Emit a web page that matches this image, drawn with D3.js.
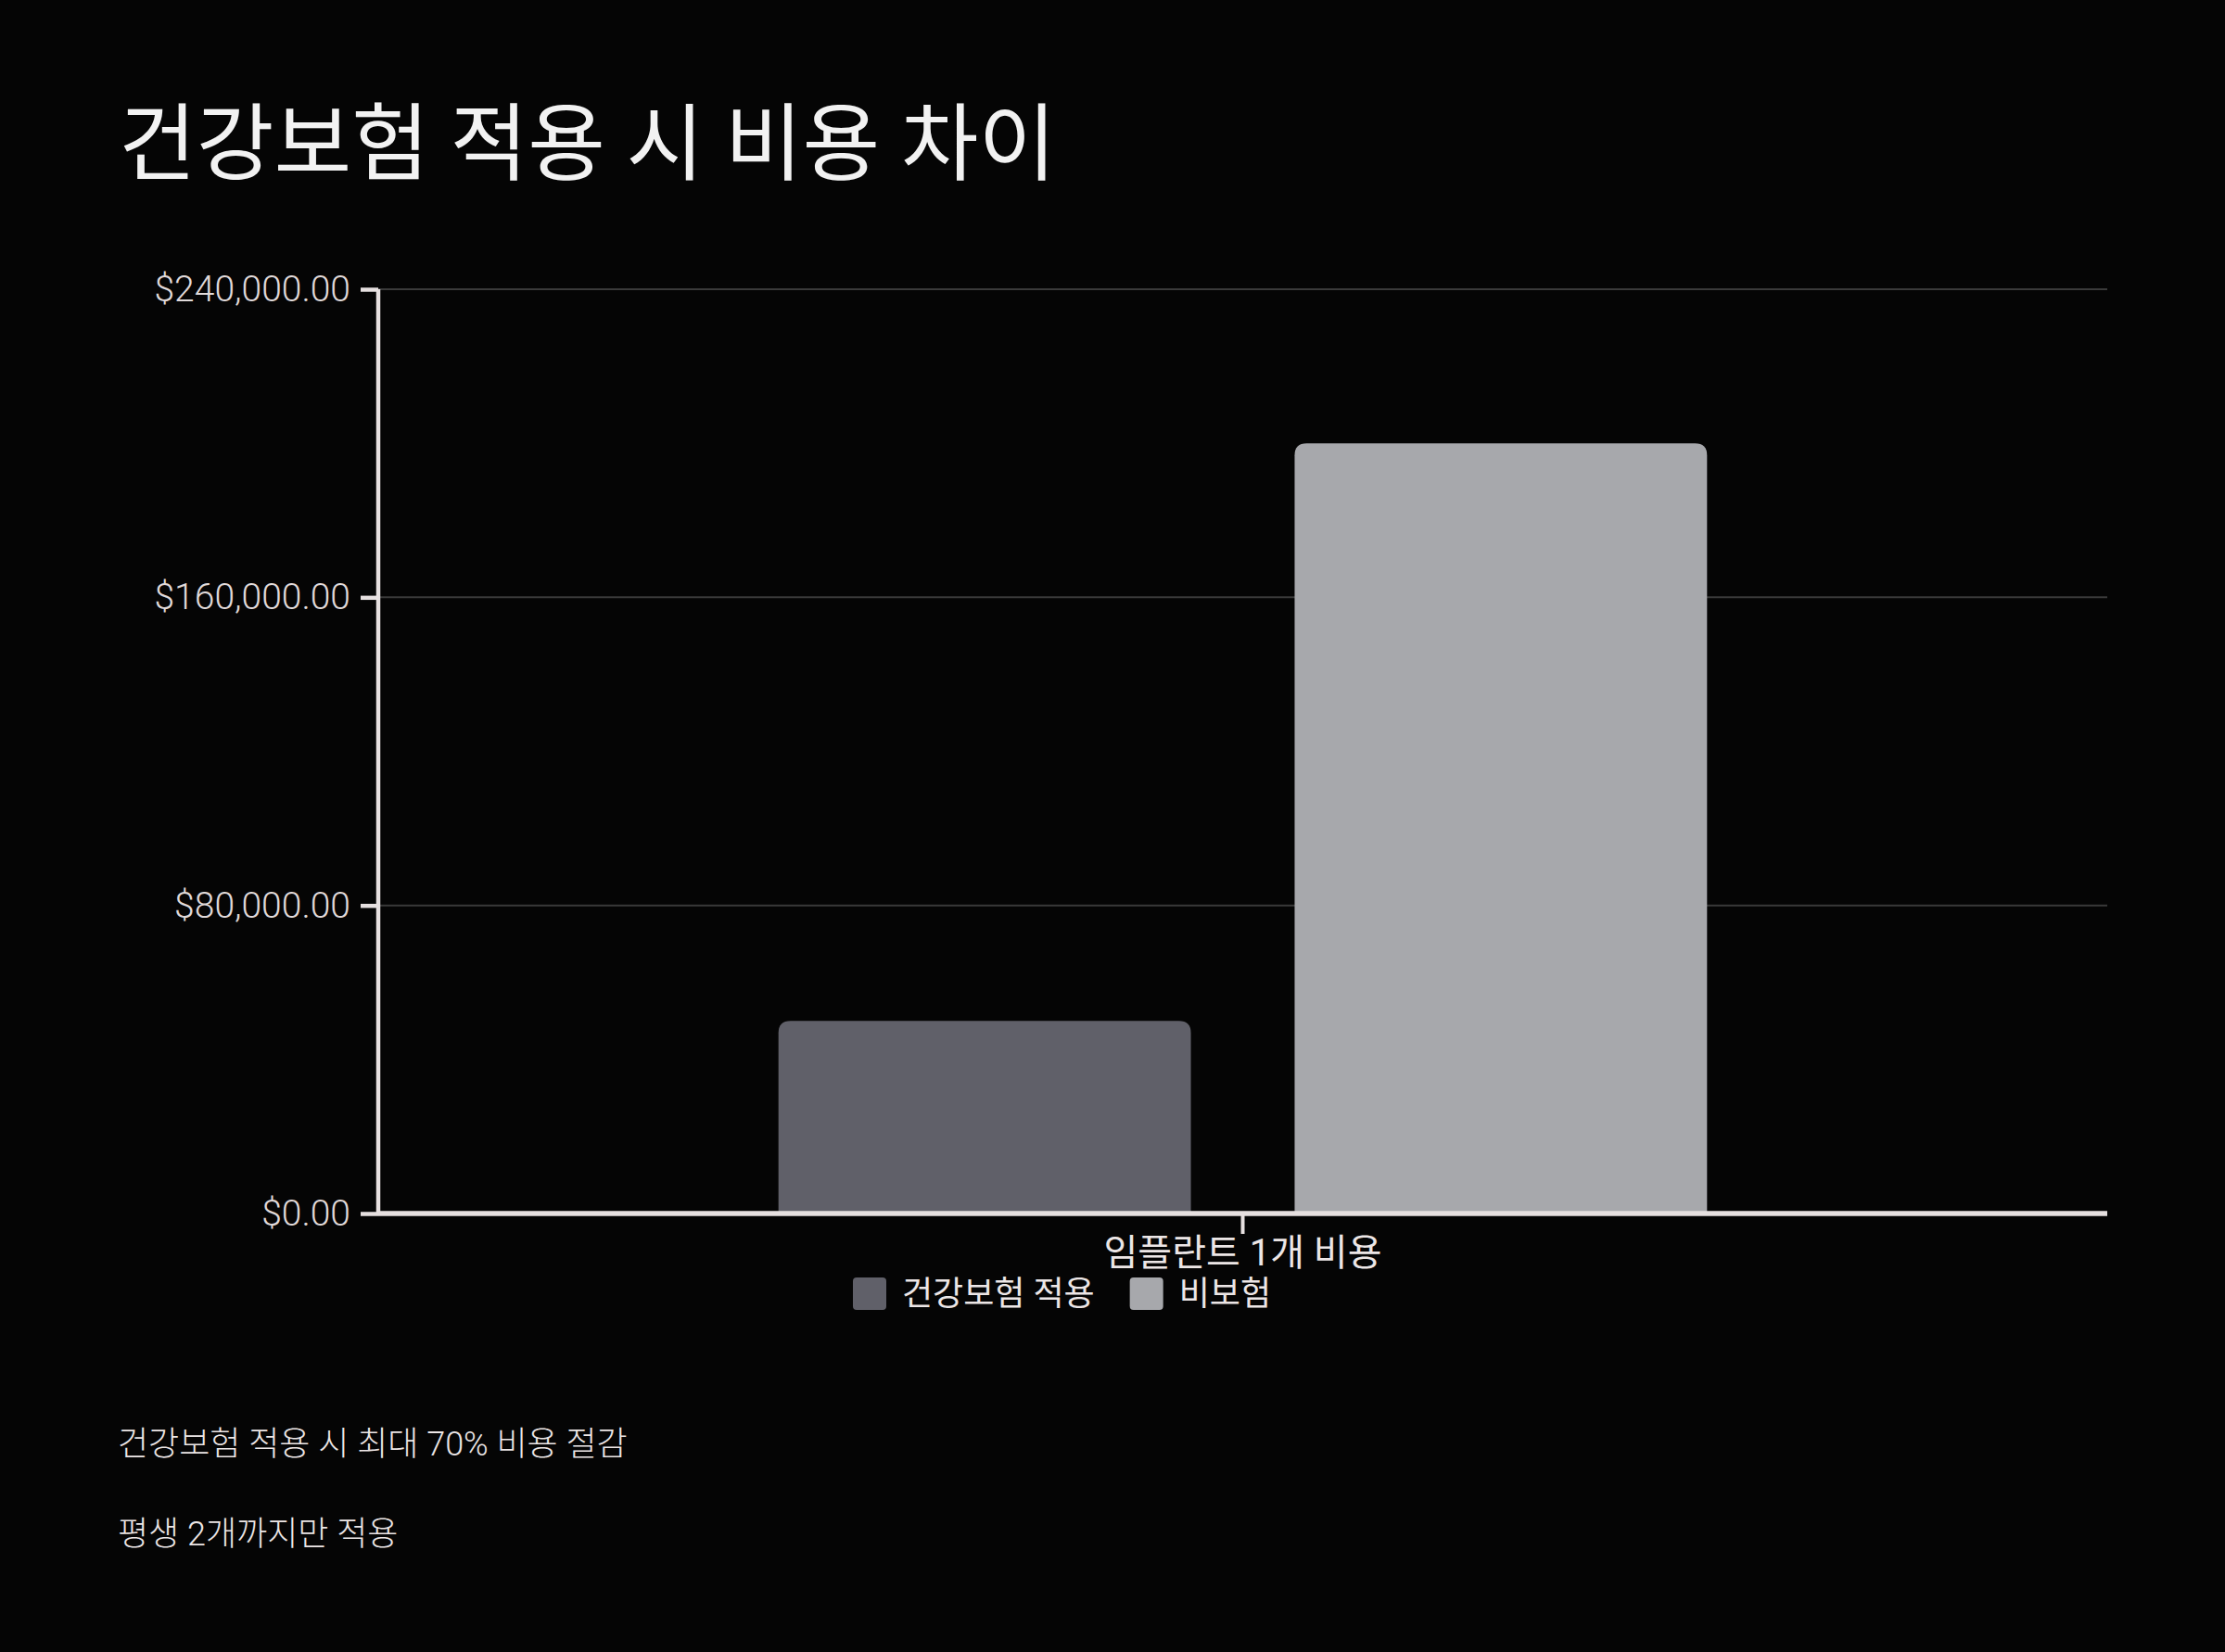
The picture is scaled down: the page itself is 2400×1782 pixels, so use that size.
<!DOCTYPE html>
<html>
<head>
<meta charset="utf-8">
<script src="https://cdn.jsdelivr.net/npm/d3@7"></script>
<style>
  html, body { margin: 0; padding: 0; background: #050505; }
  svg { display: block; }
  text { font-family: Roboto, "Noto Sans CJK KR", sans-serif; }
</style>
</head>
<body>
<svg id="chart" width="2400" height="1782"></svg>
<script>
const title = "건강보험 적용 시 비용 차이";
const categories = ["임플란트 1개 비용"];
const seriesNames = ["건강보험 적용", "비보험"];
const seriesColors = ["#606069", "#a7a8ac"];
const insuredValues = [50000];
const uninsuredValues = [200000];
const yTicks = [0, 80000, 160000, 240000];
const notes = ["건강보험 적용 시 최대 70% 비용 절감", "평생 2개까지만 적용"];

const W = 2400, H = 1782;
const margin = { left: 408, right: 2273, top: 312, bottom: 1309 };
const svg = d3.select("#chart");
svg.append("rect").attr("width", W).attr("height", H).attr("fill", "#050505");

svg.append("text").attr("x", 128).attr("y", 187)
  .attr("fill", "#f2f2f2").attr("font-size", 91).attr("font-weight", 400)
  .text(title);

const y = d3.scaleLinear().domain([0, 240000]).range([margin.bottom, margin.top]);
const x0 = d3.scaleBand().domain(categories).range([margin.left, margin.right]).paddingInner(0).paddingOuter(0.431);
const x1 = d3.scaleBand().domain(seriesNames).range([0, x0.bandwidth()]).paddingInner(0.201);

// gridlines
svg.append("g").selectAll("line").data(yTicks.slice(1)).join("line")
  .attr("x1", margin.left).attr("x2", margin.right)
  .attr("y1", d => y(d)).attr("y2", d => y(d))
  .attr("stroke", "#3a3a3a").attr("stroke-width", 2);

// bars
const data = categories.map((c, i) => ({ cat: c, vals: [insuredValues[i], uninsuredValues[i]] }));
const r = 13;
function topRounded(xp, yp, w, h, rad) {
  return `M${xp},${yp + h}V${yp + rad}Q${xp},${yp} ${xp + rad},${yp}H${xp + w - rad}Q${xp + w},${yp} ${xp + w},${yp + rad}V${yp + h}Z`;
}
const g = svg.append("g");
data.forEach(d => {
  d.vals.forEach((v, j) => {
    const xp = x0(d.cat) + x1(seriesNames[j]);
    g.append("path")
      .attr("d", topRounded(xp, y(v), x1.bandwidth(), y(0) - y(v), r))
      .attr("fill", seriesColors[j]);
  });
});

// y axis
const yAxis = d3.axisLeft(y).tickValues(yTicks).tickFormat(d3.format("$,.2f")).tickSize(19).tickPadding(11);
const ya = svg.append("g").attr("transform", `translate(${margin.left},0)`).call(yAxis);
ya.select(".domain").attr("stroke", "#e6e0e0").attr("stroke-width", 4.5).attr("d", `M0,${margin.top}V${margin.bottom}`);
ya.selectAll(".tick line").attr("stroke", "#e6e0e0").attr("stroke-width", 4.5);
ya.selectAll(".tick text").attr("fill", "#e0dada").attr("font-size", 39).attr("font-weight", 300)
  .attr("font-family", "Roboto, 'Noto Sans CJK KR', sans-serif");

// x axis
const xAxis = d3.axisBottom(x0).tickSize(22).tickPadding(6);
const xa = svg.append("g").attr("transform", `translate(0,${margin.bottom})`).call(xAxis);
xa.select(".domain").attr("stroke", "#e6e0e0").attr("stroke-width", 5.5).attr("d", `M${margin.left},0H${margin.right}`);
xa.selectAll(".tick line").attr("stroke", "#e6e0e0").attr("stroke-width", 4);
xa.selectAll(".tick text").attr("fill", "#ece6e6").attr("font-size", 40).attr("font-weight", 400)
  .attr("font-family", "Roboto, 'Noto Sans CJK KR', sans-serif");

// legend
const legend = svg.append("g").attr("transform", "translate(920,1378)");
const legendItems = legend.selectAll("g").data(seriesNames).join("g");
legendItems.append("rect").attr("width", 36).attr("height", 35).attr("rx", 4)
  .attr("fill", (d, i) => seriesColors[i]);
legendItems.append("text").attr("x", 53).attr("y", 30)
  .attr("fill", "#ece6e6").attr("font-size", 36).text(d => d);
let lx = 0;
legendItems.each(function () {
  d3.select(this).attr("transform", `translate(${lx},0)`);
  lx += this.getBBox().width + 38;
});

// notes
svg.append("g").selectAll("text").data(notes).join("text")
  .attr("x", 127).attr("y", (d, i) => 1570 + i * 97)
  .attr("fill", "#ece6e6").attr("font-size", 36).attr("font-weight", 300)
  .text(d => d);
</script>
</body>
</html>
